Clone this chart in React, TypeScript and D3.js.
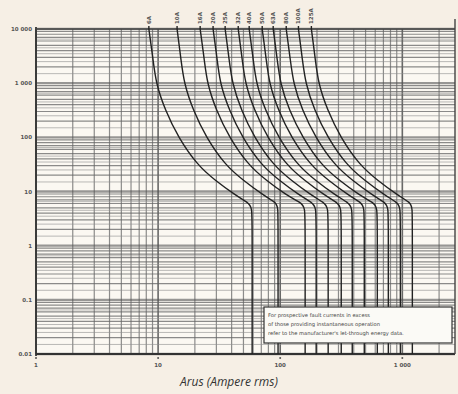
import React, { useEffect, useRef } from "react";
import * as d3 from "d3";

// fuse ratings printed at top of each curve
const ratings = ["6A", "10A", "16A", "20A", "25A", "32A", "40A", "50A", "63A", "80A", "100A", "125A"];

const times = [10000, 2700, 1000, 320, 100, 31, 16, 8.6, 6.2, 5.2, 2, 0.01];

// currents (A) for each curve, read at the times above
const c6 = [8.4, 9.1, 9.6, 11.4, 14.6, 20.9, 29.3, 42.8, 54.7, 58.9, 58.9, 58.9];
const c10 = [14.3, 15.4, 16.3, 19.3, 24.7, 35.3, 49.8, 72.5, 92.7, 96, 96, 96];
const c16 = [22.1, 23.9, 25.2, 29.8, 38.2, 54.6, 76.9, 112, 148, 160, 160, 160];
const c20 = [28.2, 30.5, 32.1, 38.1, 48.8, 69.7, 98.1, 143, 183, 197, 197, 197];
const c25 = [35.4, 38.2, 40.4, 47.8, 61.2, 87.4, 123, 179, 229, 247, 247, 247];
const c32 = [45.3, 48.9, 51.6, 61.2, 78.4, 112, 158, 230, 294, 316, 316, 316];
const c40 = [55.7, 60.2, 63.5, 75.2, 96.4, 138, 194, 282, 361, 389, 389, 389];
const c50 = [71.2, 76.9, 81.2, 96.1, 123, 176, 248, 361, 461, 488, 488, 488];
const c63 = [87.6, 94.6, 99.9, 118, 152, 216, 305, 444, 580, 624, 624, 624];
const c80 = [112, 121, 128, 151, 194, 277, 390, 568, 726, 768, 768, 768];
const c100 = [141, 152, 161, 190, 244, 348, 491, 715, 914, 964, 964, 964];
const c125 = [180, 194, 205, 243, 311, 445, 626, 913, 1166, 1208, 1208, 1208];
const curves = [c6, c10, c16, c20, c25, c32, c40, c50, c63, c80, c100, c125];

const yTicks = [10000, 1000, 100, 10, 1, 0.1, 0.01];
const yTickLabels = ["10 000", "1 000", "100", "10", "1", "0.1", "0.01"];
const xTicks = [1, 10, 100, 1000];
const xTickLabels = ["1", "10", "100", "1 000"];

const noteLines = [
  "For prospective fault currents in excess",
  "of those providing instantaneous operation",
  "refer to the manufacturer's let-through energy data.",
];

function FuseChart() {
  const ref = useRef<SVGSVGElement | null>(null);

  useEffect(() => {
    const width = 458;
    const height = 394;
    const svg = d3.select(ref.current);
    svg.selectAll("*").remove();

    const left = 36, right = 455, top = 29, bottom = 354;

    const x = d3.scaleLog().domain([1, 2700]).range([left, right]);
    const y = d3.scaleLog().domain([0.01, 10000]).range([bottom, top]);

    svg.append("rect").attr("width", width).attr("height", height).attr("fill", "#f6efe5");
    svg.append("rect")
      .attr("x", left).attr("y", top)
      .attr("width", right - left).attr("height", bottom - top)
      .attr("fill", "#fbf8f2");

    const grid = svg.append("g");

    // vertical grid, 1..9 per decade
    const xs: number[] = [];
    for (let d = 1; d <= 1000; d *= 10) {
      for (let k = 1; k <= 9; k++) {
        const v = d * k;
        if (v <= 2700) xs.push(v);
      }
    }
    const isDecade = (d: number) => Math.abs(Math.log10(d) - Math.round(Math.log10(d))) < 1e-9;
    grid.selectAll(".vx")
      .data(xs)
      .join("line")
      .attr("x1", d => x(d)).attr("x2", d => x(d))
      .attr("y1", top).attr("y2", bottom)
      .attr("stroke", d => (isDecade(d) ? "#444" : "#707070"))
      .attr("stroke-width", d => (isDecade(d) ? 1.6 : 1.2))
      .attr("stroke-opacity", 0.8);

    // horizontal grid, dense subdivisions
    const ysMinor: number[] = [];
    const ysMain: number[] = [];
    for (let d = 0.01; d < 9999; d *= 10) {
      [1.5, 2.5, 3.5, 4.5, 6.5].forEach(k => ysMinor.push(d * k));
      for (let k = 2; k <= 9; k++) ysMain.push(d * k);
    }
    grid.selectAll(".hminor")
      .data(ysMinor)
      .join("line")
      .attr("x1", left).attr("x2", right)
      .attr("y1", d => y(d)).attr("y2", d => y(d))
      .attr("stroke", "#8e8e8e").attr("stroke-width", 1).attr("stroke-opacity", 0.6);
    grid.selectAll(".hmain")
      .data(ysMain)
      .join("line")
      .attr("x1", left).attr("x2", right)
      .attr("y1", d => y(d)).attr("y2", d => y(d))
      .attr("stroke", "#666").attr("stroke-width", 1.2).attr("stroke-opacity", 0.75);
    grid.selectAll(".hdec")
      .data(yTicks)
      .join("line")
      .attr("x1", left).attr("x2", right)
      .attr("y1", d => y(d)).attr("y2", d => y(d))
      .attr("stroke", "#555").attr("stroke-width", 2.4).attr("stroke-opacity", 0.6);

    // frame
    svg.append("line").attr("x1", left).attr("x2", left).attr("y1", top - 2).attr("y2", bottom + 2)
      .attr("stroke", "#333").attr("stroke-width", 1.8);
    svg.append("line").attr("x1", left).attr("x2", right).attr("y1", bottom).attr("y2", bottom)
      .attr("stroke", "#333").attr("stroke-width", 1.8);
    svg.append("line").attr("x1", left).attr("x2", right).attr("y1", top).attr("y2", top)
      .attr("stroke", "#444").attr("stroke-width", 1.4);
    svg.append("line").attr("x1", right).attr("x2", right).attr("y1", top - 10).attr("y2", bottom)
      .attr("stroke", "#444").attr("stroke-width", 1.4);

    // fuse curves
    const line = d3.line<[number, number]>()
      .x(d => x(d[0]))
      .y(d => y(d[1]))
      .curve(d3.curveBasis);

    const cg = svg.append("g").attr("fill", "none").attr("stroke", "#222").attr("stroke-width", 1.4);
    curves.forEach(c => {
      const pts: [number, number][] = c.map((v, i) => [v, times[i]]);
      cg.append("path").attr("d", line(pts));
      cg.append("line")
        .attr("x1", x(c[0])).attr("x2", x(c[0]))
        .attr("y1", top - 3).attr("y2", top);
    });

    // rating labels
    svg.append("g")
      .selectAll("text")
      .data(ratings)
      .join("text")
      .attr("transform", (d, i) => `translate(${x(curves[i][0]) + 2}, 24) rotate(-90)`)
      .attr("font-family", "DejaVu Sans, sans-serif")
      .attr("font-size", 5.5)
      .attr("font-weight", "bold")
      .attr("fill", "#555")
      .text(d => d);

    // y tick labels
    svg.append("g")
      .selectAll("text")
      .data(yTicks)
      .join("text")
      .attr("x", left - 4)
      .attr("y", d => y(d) + 2)
      .attr("text-anchor", "end")
      .attr("font-family", "DejaVu Sans, sans-serif")
      .attr("font-size", 5.5)
      .attr("font-weight", "bold")
      .attr("fill", "#555")
      .text((d, i) => yTickLabels[i]);

    // x tick labels
    const xt = svg.append("g");
    xt.selectAll("circle")
      .data(xTicks)
      .join("circle")
      .attr("cx", d => x(d)).attr("cy", bottom + 4).attr("r", 1)
      .attr("fill", "#555");
    xt.selectAll("text")
      .data(xTicks)
      .join("text")
      .attr("x", d => x(d))
      .attr("y", bottom + 13)
      .attr("text-anchor", "middle")
      .attr("font-family", "DejaVu Sans, sans-serif")
      .attr("font-size", 5.5)
      .attr("font-weight", "bold")
      .attr("fill", "#555")
      .text((d, i) => xTickLabels[i]);

    // note box
    const bx = 264, by = 307, bw = 188, bh = 36;
    svg.append("rect")
      .attr("x", bx).attr("y", by).attr("width", bw).attr("height", bh)
      .attr("fill", "#fbfaf6").attr("stroke", "#333").attr("stroke-width", 1.2);
    svg.append("g")
      .selectAll("text")
      .data(noteLines)
      .join("text")
      .attr("x", bx + 4)
      .attr("y", (d, i) => by + 10 + i * 9)
      .attr("font-family", "DejaVu Sans, sans-serif")
      .attr("font-size", 5.2)
      .attr("fill", "#444")
      .text(d => d);

    // axis title
    svg.append("text")
      .attr("x", 229)
      .attr("y", 386)
      .attr("text-anchor", "middle")
      .attr("font-family", "Open Sans, sans-serif")
      .attr("font-style", "italic")
      .attr("font-size", 12)
      .attr("fill", "#333")
      .text("Arus (Ampere rms)");
  }, []);

  return <svg ref={ref} width={458} height={394} style={{ position: "absolute", left: 0, top: 0 }} />;
}

export default function App() {
  return <FuseChart />;
}
